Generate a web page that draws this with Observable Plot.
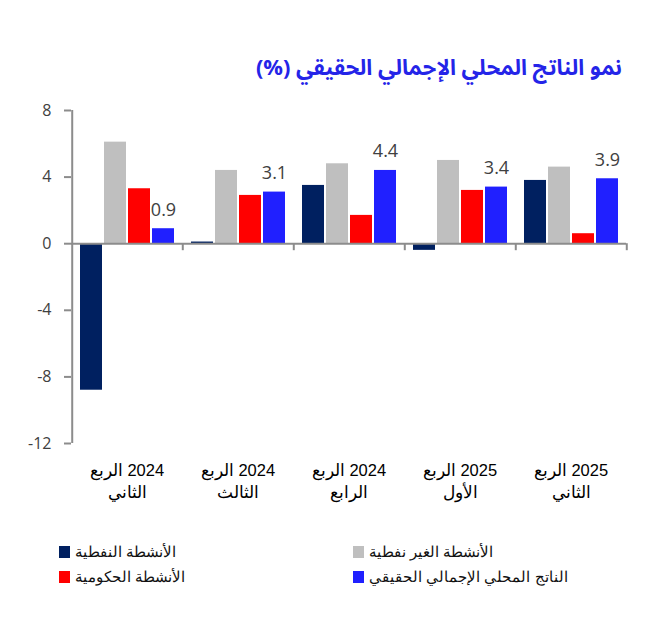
<!DOCTYPE html>
<html><head><meta charset="utf-8">
<script src="https://cdn.jsdelivr.net/npm/d3@7"></script>
<script src="https://cdn.jsdelivr.net/npm/@observablehq/plot@0.6"></script>
<style>
body{margin:0;background:#fff;}
#wrap{position:relative;width:657px;height:619px;overflow:hidden;background:#fff;}
#title{position:absolute;right:35px;top:45px;font:bold 22px "Noto Sans Arabic","Noto Kufi Arabic","Noto Naskh Arabic","DejaVu Sans",sans-serif;color:#2424e8;direction:rtl;white-space:nowrap;transform-origin:right center;}
#chart{position:absolute;left:0;top:90px;}
.leg{position:absolute;display:flex;align-items:center;font:15px "Liberation Sans",Arial,sans-serif;color:#111;white-space:nowrap;}
.sw{width:11px;height:12px;margin-right:5px;flex:none;}
</style></head>
<body>
<div id="wrap">
  <div id="title"></div>
  <div id="chart"></div>
  <div id="legend"></div>
</div>
<script>
const titleText = "نمو الناتج المحلي الإجمالي الحقيقي (%)";
// RLM (\u200F) keeps the right-to-left reading order: year on the right, "الربع" on its left
const quarters = ["\u200F2024 الربع\nالثاني", "\u200F2024 الربع\nالثالث", "\u200F2024 الربع\nالرابع", "\u200F2025 الربع\nالأول", "\u200F2025 الربع\nالثاني"];
const series = ["الأنشطة النفطية", "الأنشطة الغير نفطية", "الأنشطة الحكومية", "الناتج المحلي الإجمالي الحقيقي"];
const colors = ["#002060", "#bfbfbf", "#ff0000", "#2020ff"];
const oil    = [-8.8, 0.1, 3.5, -0.4, 3.8];
const nonOil = [6.1, 4.4, 4.8, 5.0, 4.6];
const gov    = [3.3, 2.9, 1.7, 3.2, 0.6];
const gdp    = [0.9, 3.1, 4.4, 3.4, 3.9];
const yDomain = [-12, 8];
const yTicks = [-12, -8, -4, 0, 4, 8];

const values = [oil, nonOil, gov, gdp];
const data = quarters.flatMap((q, i) => series.map((s, j) => ({quarter: q, series: s, value: values[j][i]})));
const labelSeries = series[3];

const W = 657, H = 420, ML = 69, MR = 29, MT = 20, MB = 67;
const PI = 0.1, PO = 0.34;
const facetW = (W - ML - MR) / quarters.length;
const step = facetW / (series.length - PI + 2 * PO);
const edge = step * (PO + (1 - PI) / 2);
const axisColor = "#8c8c8c";

const titleEl = document.getElementById("title");
titleEl.textContent = titleText;
const titleMax = 366;
const tw = titleEl.getBoundingClientRect().width;
if (tw > titleMax) titleEl.style.transform = `scaleX(${titleMax / tw})`;

const plot = Plot.plot({
  width: W, height: H,
  marginLeft: ML, marginRight: MR, marginTop: MT, marginBottom: MB,
  fx: {domain: quarters, padding: 0, axis: null},
  x: {domain: series, paddingInner: PI, paddingOuter: PO, axis: null},
  y: {domain: yDomain},
  color: {domain: series, range: colors},
  style: {fontFamily: "'Open Sans', sans-serif", background: "#fff"},
  marks: [
    Plot.barY(data, {fx: "quarter", x: "series", y: "value", fill: "series"}),
    Plot.ruleY([0], {stroke: axisColor, strokeWidth: 2}),
    Plot.ruleX([quarters[0]], {fx: d => d, x: () => series[0], y1: yDomain[0], y2: yDomain[1], dx: -edge, stroke: axisColor, strokeWidth: 2}),
    Plot.ruleX(quarters, {fx: d => d, x: () => series[series.length - 1], y1: 0, y2: 0, dx: edge, insetBottom: -7, stroke: axisColor, strokeWidth: 2}),
    Plot.axisY({ticks: yTicks, tickFormat: d => String(d), label: null, tickSize: 7, tickPadding: 13, stroke: axisColor, strokeWidth: 2, fill: "#404040", fontSize: 16}),
    Plot.text(data.filter(d => d.series === labelSeries), {fx: "quarter", x: "series", y: "value", text: d => d.value.toFixed(1), lineAnchor: "bottom", dy: -13, fontSize: 18, fill: "#404040"}),
    Plot.text(quarters, {fx: d => d, text: d => d, frameAnchor: "bottom", lineAnchor: "top", dy: 16, fontSize: 16.5, lineHeight: 1.38, fill: "#000", fontFamily: "'Liberation Sans', Arial, sans-serif"})
  ]
});
document.getElementById("chart").appendChild(plot);

const legend = document.getElementById("legend");
const legLeft = [59, 353], legTop = [543, 568];
series.forEach((s, i) => {
  const item = document.createElement("div");
  item.className = "leg";
  item.style.left = legLeft[i % 2] + "px";
  item.style.top = legTop[Math.floor(i / 2)] + "px";
  const sw = document.createElement("span");
  sw.className = "sw";
  sw.style.background = colors[i];
  const tx = document.createElement("span");
  tx.textContent = s;
  item.appendChild(sw); item.appendChild(tx);
  legend.appendChild(item);
});
</script>
</body></html>
